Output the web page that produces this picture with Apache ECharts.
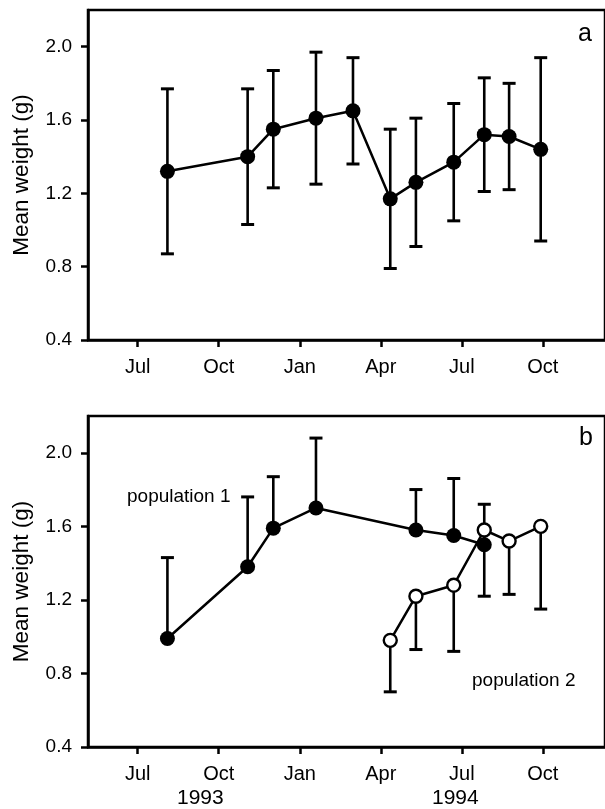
<!DOCTYPE html>
<html>
<head>
<meta charset="utf-8">
<script src="https://cdn.jsdelivr.net/npm/echarts@6/dist/echarts.min.js"></script>
<style>
  html, body { margin: 0; padding: 0; background: #fff; }
  #main { width: 605px; height: 809px; }
</style>
</head>
<body>
<div id="main"></div>
<script>
// months counted from Jan 1993 (6 = Jul 1993, 12 = Jan 1994 ...)
var tickMonths = [6, 9, 12, 15, 18, 21];
var tickNames = ['Jul', 'Oct', 'Jan', 'Apr', 'Jul', 'Oct'];
var yTicks = [0.4, 0.8, 1.2, 1.6, 2.0];

// panel a
var monthsA = [7.1, 10.07, 11.02, 12.6, 13.97, 15.35, 16.3, 17.7, 18.83, 19.75, 20.92];
var meanA = [1.32, 1.40, 1.55, 1.61, 1.65, 1.17, 1.26, 1.37, 1.52, 1.51, 1.44];
var lowA  = [0.87, 1.03, 1.23, 1.25, 1.36, 0.79, 0.91, 1.05, 1.21, 1.22, 0.94];
var highA = [1.77, 1.77, 1.87, 1.97, 1.94, 1.55, 1.61, 1.69, 1.83, 1.80, 1.94];

// panel b, population 1 (bars go up)
var monthsP1 = [7.1, 10.07, 11.02, 12.6, 16.3, 17.7, 18.83];
var meanP1 = [0.99, 1.38, 1.59, 1.70, 1.58, 1.55, 1.50];
var highP1 = [1.43, 1.76, 1.87, 2.08, 1.80, 1.86, 1.72];

// panel b, population 2 (bars go down)
var monthsP2 = [15.35, 16.3, 17.7, 18.83, 19.75, 20.92];
var meanP2 = [0.98, 1.22, 1.28, 1.58, 1.52, 1.60];
var lowP2  = [0.70, 0.93, 0.92, 1.22, 1.23, 1.15];

var FONT = 'Liberation Sans, Arial, sans-serif';

function pairs(xs, ys) {
  return xs.map(function (x, i) { return [x, ys[i]]; });
}
function bars(xs, a, b) {
  return xs.map(function (x, i) { return [x, a[i], b[i]]; });
}

// one cap, at the far end (panel b)
function renderBar(params, api) {
  var x = api.value(0);
  var p1 = api.coord([x, api.value(1)]);
  var p2 = api.coord([x, api.value(2)]);
  var half = 6.5;
  return {
    type: 'group',
    children: [
      { type: 'line', shape: { x1: p1[0], y1: p1[1], x2: p2[0], y2: p2[1] }, style: { stroke: '#000', lineWidth: 2.6 } },
      { type: 'line', shape: { x1: p2[0] - half, y1: p2[1], x2: p2[0] + half, y2: p2[1] }, style: { stroke: '#000', lineWidth: 3 } }
    ]
  };
}
// panel a bars have caps at both ends
function renderBarBoth(params, api) {
  var x = api.value(0);
  var p1 = api.coord([x, api.value(1)]);
  var p2 = api.coord([x, api.value(2)]);
  var half = 6.5;
  return {
    type: 'group',
    children: [
      { type: 'line', shape: { x1: p1[0], y1: p1[1], x2: p2[0], y2: p2[1] }, style: { stroke: '#000', lineWidth: 2.6 } },
      { type: 'line', shape: { x1: p1[0] - half, y1: p1[1], x2: p1[0] + half, y2: p1[1] }, style: { stroke: '#000', lineWidth: 3 } },
      { type: 'line', shape: { x1: p2[0] - half, y1: p2[1], x2: p2[0] + half, y2: p2[1] }, style: { stroke: '#000', lineWidth: 3 } }
    ]
  };
}

function xAxisFor(idx) {
  return {
    type: 'value', gridIndex: idx, min: 4.16, max: 23.3,
    splitLine: { show: false },
    axisLine: { show: true, onZero: false, lineStyle: { color: '#000', width: 2.5 } },
    axisTick: { show: true, customValues: tickMonths, length: 7, lineStyle: { color: '#000', width: 2.5 } },
    axisLabel: {
      customValues: tickMonths, margin: 17, color: '#000', fontSize: 20, fontFamily: FONT,
      formatter: function (v) { return tickNames[tickMonths.indexOf(v)]; }
    }
  };
}
function yAxisFor(idx) {
  return {
    type: 'value', gridIndex: idx, min: 0.4, max: 2.2,
    name: 'Mean weight (g)', nameLocation: 'middle', nameGap: 55,
    nameTextStyle: { color: '#000', fontSize: 22.5, fontFamily: FONT },
    splitLine: { show: false },
    axisLine: { show: true, lineStyle: { color: '#000', width: 2.5 } },
    axisTick: { show: true, customValues: yTicks, length: 7, lineStyle: { color: '#000', width: 2.5 } },
    axisLabel: {
      customValues: yTicks, margin: 16, color: '#000', fontSize: 19, fontFamily: FONT,
      formatter: function (v) { return v.toFixed(1); }
    }
  };
}

var chart = echarts.init(document.getElementById('main'));
var option = {
  animation: false,
  backgroundColor: '#fff',
  grid: [
    { left: 88, right: -7, top: 10, bottom: 469, show: true, borderColor: '#000', borderWidth: 2.5 },
    { left: 88, right: -7, top: 416, bottom: 62, show: true, borderColor: '#000', borderWidth: 2.5 }
  ],
  xAxis: [xAxisFor(0), xAxisFor(1)],
  yAxis: [yAxisFor(0), yAxisFor(1)],
  series: [
    {
      type: 'custom', xAxisIndex: 0, yAxisIndex: 0, z: 1,
      renderItem: renderBarBoth, data: bars(monthsA, lowA, highA)
    },
    {
      type: 'line', xAxisIndex: 0, yAxisIndex: 0, z: 3,
      data: pairs(monthsA, meanA),
      symbol: 'circle', symbolSize: 15,
      lineStyle: { color: '#000', width: 2.5 },
      itemStyle: { color: '#000' }
    },
    {
      type: 'custom', xAxisIndex: 1, yAxisIndex: 1, z: 1,
      renderItem: renderBar, data: bars(monthsP1, meanP1, highP1)
    },
    {
      type: 'custom', xAxisIndex: 1, yAxisIndex: 1, z: 1,
      renderItem: renderBar, data: bars(monthsP2, meanP2, lowP2)
    },
    {
      type: 'line', xAxisIndex: 1, yAxisIndex: 1, z: 3,
      data: pairs(monthsP1, meanP1),
      symbol: 'circle', symbolSize: 15,
      lineStyle: { color: '#000', width: 2.5 },
      itemStyle: { color: '#000' }
    },
    {
      type: 'line', xAxisIndex: 1, yAxisIndex: 1, z: 4,
      data: pairs(monthsP2, meanP2),
      symbol: 'circle', symbolSize: 13,
      lineStyle: { color: '#000', width: 2.5 },
      itemStyle: { color: '#fff', borderColor: '#000', borderWidth: 2.4 }
    }
  ],
  graphic: [
    { type: 'text', left: 578, top: 22, style: { text: 'a', fontSize: 25, fontFamily: FONT, fill: '#000' } },
    { type: 'text', left: 579, top: 426, style: { text: 'b', fontSize: 25, fontFamily: FONT, fill: '#000' } },
    { type: 'text', left: 127, top: 487, style: { text: 'population 1', fontSize: 19, fontFamily: FONT, fill: '#000' } },
    { type: 'text', left: 472, top: 671, style: { text: 'population 2', fontSize: 19, fontFamily: FONT, fill: '#000' } },
    { type: 'text', left: 177, top: 788, style: { text: '1993', fontSize: 21, fontFamily: FONT, fill: '#000' } },
    { type: 'text', left: 432, top: 788, style: { text: '1994', fontSize: 21, fontFamily: FONT, fill: '#000' } }
  ]
};
chart.setOption(option);
</script>
</body>
</html>
